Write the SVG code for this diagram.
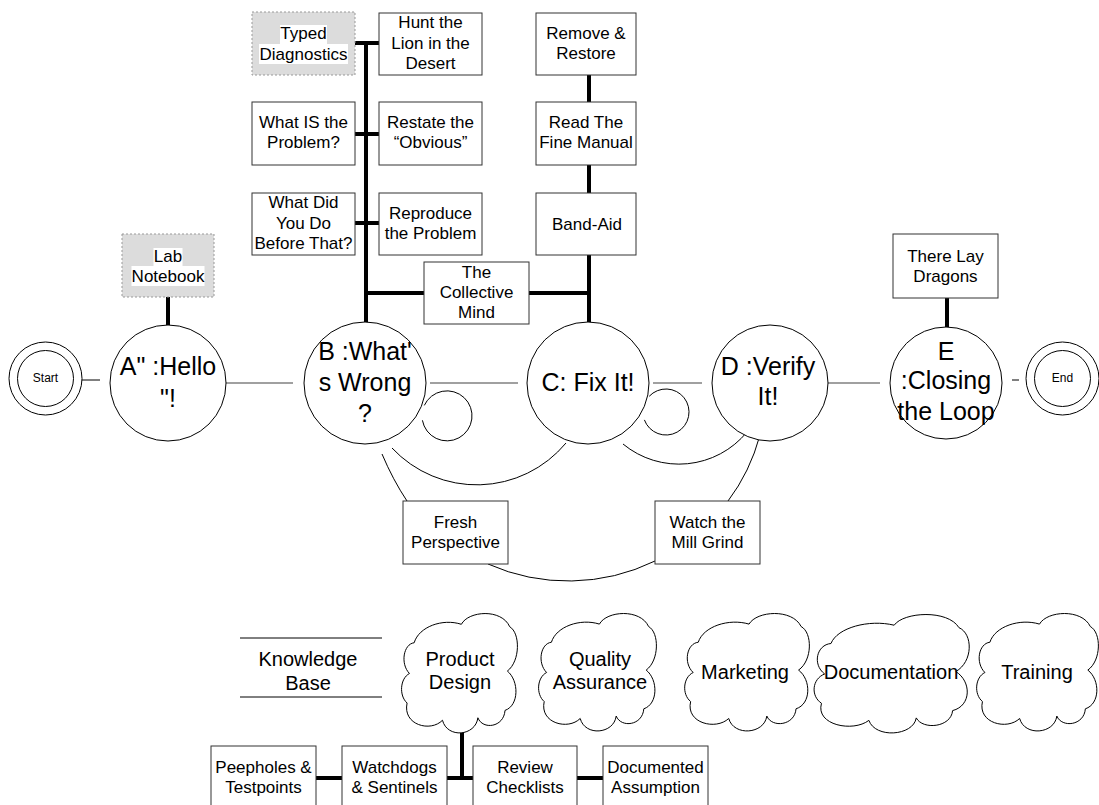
<svg xmlns="http://www.w3.org/2000/svg" xmlns:xlink="http://www.w3.org/1999/xlink" width="1099" height="805" viewBox="0 0 1099 805">
<style>
text{font-family:"Liberation Sans",Arial,sans-serif;fill:#000;text-anchor:middle}
.b{font-size:17px}
.c{font-size:25px}
.k{font-size:20px}
.s{font-size:12px}
.box{fill:#fff;stroke:#333;stroke-width:1}
.dbox{fill:#dcdcdc;stroke:#999;stroke-width:1;stroke-dasharray:2 2}
.circ{fill:#fff;stroke:#000;stroke-width:1}
.thick{stroke:#000;stroke-width:4;fill:none}
.thin{stroke:#000;stroke-width:1;fill:none}
.gray{stroke:#808080;stroke-width:1.5;fill:none}
.cloud{fill:#fff;stroke:#000;stroke-width:1}
.hl{fill:#fff}
</style>
<defs>
<path id="cloudShape" vector-effect="non-scaling-stroke" d="M8 50 C0 42 3 26 12 25 C16 12 36 5 52 10 C58 -1 86 -3 93 12 C102 17 102 40 91 48 C101 56 101 76 89 80 C88 94 70 96 66 86 C64 101 40 103 36 88 C26 98 2 92 6 74 C-1 68 0 54 8 50 Z"/>
</defs>
<rect width="1099" height="805" fill="#fff"/>

<g id="connectors">
  <line class="thin" x1="82" y1="380" x2="100" y2="380" stroke="#333"/>
  <line class="gray" x1="226" y1="383" x2="293" y2="383"/>
  <line class="gray" x1="430" y1="383" x2="518" y2="383"/>
  <line class="gray" x1="653" y1="383" x2="702" y2="383"/>
  <line class="gray" x1="827" y1="383" x2="880" y2="383"/>
  <line class="thin" x1="1012" y1="380" x2="1019" y2="380" stroke="#555"/>
  <line class="thick" x1="355" y1="43" x2="379" y2="43"/>
  <line class="thick" x1="366" y1="41" x2="366" y2="323"/>
  <line class="thick" x1="355" y1="134" x2="379" y2="134"/>
  <line class="thick" x1="355" y1="223" x2="379" y2="223"/>
  <line class="thick" x1="366" y1="293" x2="424" y2="293"/>
  <line class="thick" x1="529" y1="293" x2="589" y2="293"/>
  <line class="thick" x1="589" y1="75" x2="589" y2="102"/>
  <line class="thick" x1="589" y1="165" x2="589" y2="193"/>
  <line class="thick" x1="589" y1="255" x2="589" y2="323"/>
  <line class="thick" x1="168" y1="297" x2="168" y2="325"/>
  <line class="thick" x1="947" y1="298" x2="947" y2="327"/>
  <path class="thin" d="M424.3 405.4 A25 25 0 1 1 422.4 420.3"/>
  <path class="thin" d="M649.2 396.3 A23 23 0 1 1 644.4 419.9"/>
  <path class="thin" d="M392 448 A116 116 0 0 0 566 443"/>
  <path class="thin" d="M623 444 A88 88 0 0 0 747 432"/>
  <path class="thin" d="M382 454 Q393 480 407 501"/>
  <path class="thin" d="M760 435 Q750 472 728 501"/>
  <path class="thin" d="M488 564 A198 198 0 0 0 655 561"/>
  <line class="thin" x1="240" y1="638" x2="382" y2="638"/>
  <line class="thin" x1="240" y1="697" x2="382" y2="697" stroke="#888"/>
  <line class="thick" x1="462" y1="733" x2="462" y2="780"/>
  <line class="thick" x1="316" y1="778" x2="342" y2="778"/>
  <line class="thick" x1="447" y1="778" x2="473" y2="778"/>
  <line class="thick" x1="577" y1="778" x2="603" y2="778"/>
</g>

<g id="start">
  <circle class="circ" cx="45.5" cy="378.5" r="36.5"/>
  <circle class="circ" cx="45.5" cy="378.5" r="28"/>
  <text class="s" x="45.5" y="382">Start</text>
</g>
<g id="end">
  <circle class="circ" cx="1062.5" cy="378.5" r="36.5"/>
  <circle class="circ" cx="1062.5" cy="378.5" r="28"/>
  <text class="s" x="1062.5" y="382">End</text>
</g>

<g id="nodeA">
  <circle class="circ" cx="168" cy="383" r="58"/>
  <text class="c" x="168" y="375">A" :Hello</text>
  <text class="c" x="168" y="407">"!</text>
</g>
<g id="nodeB">
  <circle class="circ" cx="365" cy="383" r="61"/>
  <text class="c" x="365" y="360">B :What'</text>
  <text class="c" x="365" y="391">s Wrong</text>
  <text class="c" x="365" y="422">?</text>
</g>
<g id="nodeC">
  <circle class="circ" cx="588" cy="383" r="61"/>
  <text class="c" x="588" y="391">C: Fix It!</text>
</g>
<g id="nodeD">
  <circle class="circ" cx="770" cy="383" r="58"/>
  <text class="c" x="768" y="375">D :Verify</text>
  <text class="c" x="768" y="405">It!</text>
</g>
<g id="nodeE">
  <circle class="circ" cx="946" cy="383" r="56"/>
  <text class="c" x="946" y="360">E</text>
  <text class="c" x="946" y="389">:Closing</text>
  <text class="c" x="946" y="420">the Loop</text>
</g>

<g id="typed">
  <rect class="dbox" x="252" y="12" width="103" height="63"/>
  <rect class="hl" x="280" y="25" width="47" height="19"/>
  <rect class="hl" x="259" y="44" width="89" height="20"/>
  <text class="b" x="303.5" y="39">Typed</text>
  <text class="b" x="303.5" y="60">Diagnostics</text>
</g>
<g id="hunt">
  <rect class="box" x="379" y="13" width="103" height="62"/>
  <text class="b" x="430.5" y="28">Hunt the</text>
  <text class="b" x="430.5" y="49">Lion in the</text>
  <text class="b" x="430.5" y="69">Desert</text>
</g>
<g id="whatis">
  <rect class="box" x="252" y="102" width="103" height="63"/>
  <text class="b" x="303.5" y="128">What IS the</text>
  <text class="b" x="303.5" y="148">Problem?</text>
</g>
<g id="restate">
  <rect class="box" x="379" y="102" width="103" height="63"/>
  <text class="b" x="430.5" y="128">Restate the</text>
  <text class="b" x="430.5" y="148">“Obvious”</text>
</g>
<g id="whatdid">
  <rect class="box" x="252" y="193" width="103" height="62"/>
  <text class="b" x="303.5" y="208">What Did</text>
  <text class="b" x="303.5" y="229">You Do</text>
  <text class="b" x="303.5" y="249">Before That?</text>
</g>
<g id="reproduce">
  <rect class="box" x="379" y="193" width="103" height="62"/>
  <text class="b" x="430.5" y="219">Reproduce</text>
  <text class="b" x="430.5" y="239">the Problem</text>
</g>
<g id="collective">
  <rect class="box" x="424" y="262" width="105" height="62"/>
  <text class="b" x="476.5" y="278">The</text>
  <text class="b" x="476.5" y="298">Collective</text>
  <text class="b" x="476.5" y="318">Mind</text>
</g>
<g id="remove">
  <rect class="box" x="536" y="13" width="100" height="62"/>
  <text class="b" x="586" y="39">Remove &amp;</text>
  <text class="b" x="586" y="59">Restore</text>
</g>
<g id="rtfm">
  <rect class="box" x="536" y="102" width="100" height="63"/>
  <text class="b" x="586" y="128">Read The</text>
  <text class="b" x="586" y="148">Fine Manual</text>
</g>
<g id="bandaid">
  <rect class="box" x="536" y="193" width="100" height="62"/>
  <text class="b" x="587" y="230">Band-Aid</text>
</g>
<g id="lab">
  <rect class="dbox" x="122" y="234" width="92" height="63"/>
  <rect class="hl" x="153.5" y="248" width="29" height="18"/>
  <rect class="hl" x="131.5" y="266" width="73" height="20"/>
  <text class="b" x="168" y="262">Lab</text>
  <text class="b" x="168" y="282">Notebook</text>
</g>
<g id="dragons">
  <rect class="box" x="893" y="234" width="105" height="64"/>
  <text class="b" x="945.5" y="262">There Lay</text>
  <text class="b" x="945.5" y="282">Dragons</text>
</g>
<g id="fresh">
  <rect class="box" x="403" y="501" width="105" height="63"/>
  <text class="b" x="455.5" y="528">Fresh</text>
  <text class="b" x="455.5" y="548">Perspective</text>
</g>
<g id="watch">
  <rect class="box" x="655" y="501" width="105" height="63"/>
  <text class="b" x="707.5" y="528">Watch the</text>
  <text class="b" x="707.5" y="548">Mill Grind</text>
</g>

<g id="knowledge">
  <text class="k" x="308" y="666">Knowledge</text>
  <text class="k" x="308" y="690">Base</text>
</g>
<g id="product">
  <use xlink:href="#cloudShape" class="cloud" transform="translate(400,612) scale(1.18,1.23)"/>
  <text class="k" x="460" y="666">Product</text>
  <text class="k" x="460" y="689">Design</text>
</g>
<g id="quality">
  <use xlink:href="#cloudShape" class="cloud" transform="translate(537,612) scale(1.2,1.21)"/>
  <text class="k" x="600" y="666">Quality</text>
  <text class="k" x="600" y="689">Assurance</text>
</g>
<g id="marketing">
  <use xlink:href="#cloudShape" class="cloud" transform="translate(683,612) scale(1.27,1.21)"/>
  <text class="k" x="745" y="679">Marketing</text>
</g>
<g id="documentation">
  <use xlink:href="#cloudShape" class="cloud" transform="translate(812,613) scale(1.58,1.22)"/>
  <text class="k" x="891" y="679">Documentation</text>
</g>
<g id="training">
  <use xlink:href="#cloudShape" class="cloud" transform="translate(975,612) scale(1.24,1.21)"/>
  <text class="k" x="1037" y="679">Training</text>
</g>

<g id="peepholes">
  <rect class="box" x="211" y="746" width="105" height="63"/>
  <text class="b" x="263.5" y="773">Peepholes &amp;</text>
  <text class="b" x="263.5" y="793">Testpoints</text>
</g>
<g id="watchdogs">
  <rect class="box" x="342" y="746" width="105" height="63"/>
  <text class="b" x="394.5" y="773">Watchdogs</text>
  <text class="b" x="394.5" y="793">&amp; Sentinels</text>
</g>
<g id="review">
  <rect class="box" x="473" y="746" width="104" height="63"/>
  <text class="b" x="525" y="773">Review</text>
  <text class="b" x="525" y="793">Checklists</text>
</g>
<g id="documented">
  <rect class="box" x="603" y="746" width="105" height="63"/>
  <text class="b" x="655.5" y="773">Documented</text>
  <text class="b" x="655.5" y="793">Assumption</text>
</g>
</svg>
